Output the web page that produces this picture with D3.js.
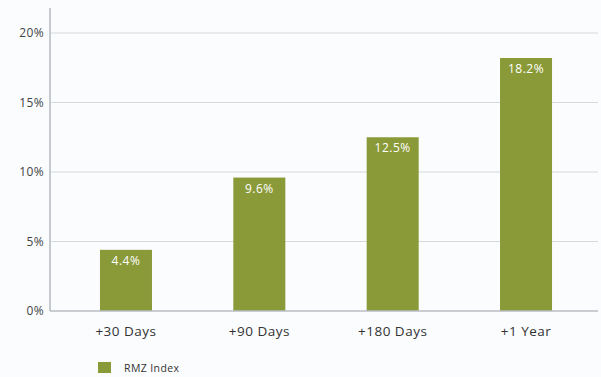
<!DOCTYPE html>
<html>
<head>
<meta charset="utf-8">
<script src="https://cdn.jsdelivr.net/npm/d3@7"></script>
<style>
  html, body { margin: 0; padding: 0; background: #fbfcfe; }
  svg { display: block; }
  text { font-family: "Open Sans", "Lato", sans-serif; }
</style>
</head>
<body>
<svg id="chart" width="601" height="377"></svg>
<script>
// Forward returns of the RMZ Index after the signal
const categories = ["+30 Days", "+90 Days", "+180 Days", "+1 Year"];
const values = [4.4, 9.6, 12.5, 18.2];
const yTicks = [0, 5, 10, 15, 20];
const seriesName = "RMZ Index";

const barColor = "#8a9a38";
const svg = d3.select("#chart");

const x = d3.scaleBand()
  .domain(categories)
  .range([59.3, 592.7])
  .paddingInner(0.61)
  .paddingOuter(0.305);

const y = d3.scaleLinear()
  .domain([0, 20])
  .range([311, 33]);

// horizontal gridlines
svg.append("g")
  .selectAll("line")
  .data(yTicks.filter(d => d > 0))
  .join("line")
  .attr("x1", 50).attr("x2", 598)
  .attr("y1", d => y(d)).attr("y2", d => y(d))
  .attr("stroke", "#d5d9de").attr("stroke-width", 1.2);

// y axis
const yAxis = svg.append("g")
  .attr("transform", "translate(50,0)")
  .call(d3.axisLeft(y).tickValues(yTicks).tickFormat(d => d + "%").tickSize(0).tickPadding(6));
yAxis.select(".domain").remove();
yAxis.selectAll("text")
  .attr("fill", "#444").attr("font-size", 12).attr("letter-spacing", "0.4px");
svg.append("line")
  .attr("x1", 50).attr("x2", 50).attr("y1", 8).attr("y2", 311)
  .attr("stroke", "#c6cacf").attr("stroke-width", 2);

// bars
svg.append("g")
  .selectAll("rect")
  .data(values)
  .join("rect")
  .attr("x", (d, i) => x(categories[i]))
  .attr("width", x.bandwidth())
  .attr("y", d => y(d))
  .attr("height", d => y(0) - y(d))
  .attr("fill", barColor);

// value labels inside bars
svg.append("g")
  .selectAll("text")
  .data(values)
  .join("text")
  .attr("x", (d, i) => x(categories[i]) + x.bandwidth() / 2)
  .attr("y", d => y(d) + 15)
  .attr("text-anchor", "middle")
  .attr("fill", "#ffffff")
  .attr("font-size", 12)
  .attr("letter-spacing", "0.5px")
  .text(d => d.toFixed(1) + "%");

// x axis
const xAxis = svg.append("g")
  .attr("transform", "translate(0,311)")
  .call(d3.axisBottom(x).tickSize(0).tickPadding(15));
xAxis.select(".domain").remove();
xAxis.selectAll("text")
  .attr("fill", "#333").attr("font-size", 13.5).attr("letter-spacing", "0.5px");
svg.append("line")
  .attr("x1", 50).attr("x2", 598).attr("y1", 311).attr("y2", 311)
  .attr("stroke", "#b8bcc1").attr("stroke-width", 1.5);

// legend
const legend = svg.append("g").attr("transform", "translate(98,362)");
legend.append("rect")
  .attr("width", 13).attr("height", 11)
  .attr("fill", barColor);
legend.append("text")
  .attr("x", 26).attr("y", 9.5)
  .attr("fill", "#333").attr("font-size", 10.5).attr("letter-spacing", "0.4px")
  .text(seriesName);
</script>
</body>
</html>
